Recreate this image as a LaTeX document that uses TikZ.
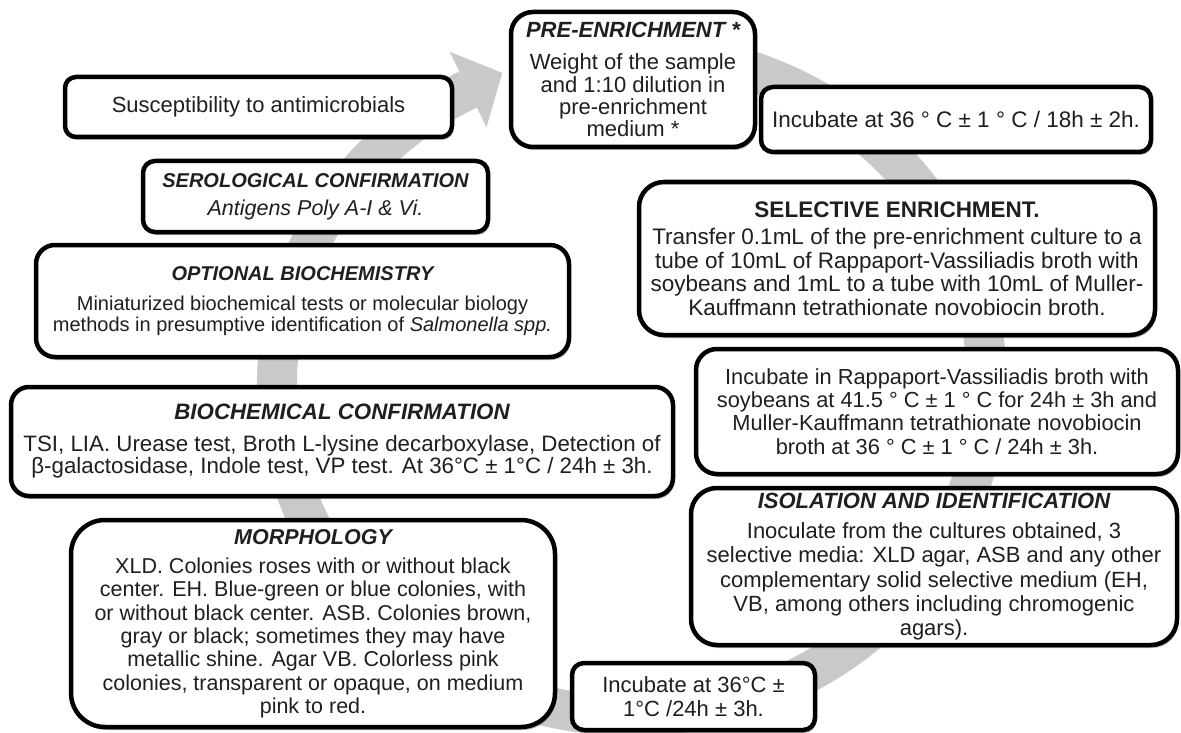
\documentclass[tikz,border=0pt]{standalone}
\usepackage{fontspec}
\setmainfont{Liberation Sans}
\usetikzlibrary{shadows}
\definecolor{band}{gray}{0.79}
\definecolor{txt}{gray}{0.12}
\lineskiplimit=-100pt
\newcommand{\ttl}[1]{{\bfseries\itshape #1}}
\tikzset{
  stepbox/.style={draw=black, line width=4.5pt, fill=white, inner sep=0pt,
    align=center, text=txt,
    drop shadow={shadow xshift=1.5pt, shadow yshift=-3pt, opacity=0.3, fill=black}},
  fs/.style 2 args={font=\fontsize{#1}{#2}\selectfont},
  bandline/.style={draw=band, line width=40pt},
}
\begin{document}
\begin{tikzpicture}[x=1pt, y=-1pt]
\useasboundingbox (0,0) rectangle (1181,733);
% big circular arrow in the background
\draw[bandline] (632,384) ++(-100:355 and 332) arc[start angle=-100, end angle=242.5, x radius=355, y radius=332];
\coordinate (ahA) at (449.7,51.7);
\coordinate (ahT) at (502.3,72.9);
\coordinate (ahB) at (486.5,127.3);
\fill[band] (ahA) -- (ahT) -- (ahB) -- cycle;

% boxes
\node[stepbox, fs={22}{23.5}, minimum width=387, minimum height=60, rounded corners=11pt] (sus) at (258.5,107) {Susceptibility to antimicrobials};

\node[stepbox, fs={22}{22.3}, minimum width=244, minimum height=135, rounded corners=22pt] (pre) at (633,79.5) {\ttl{PRE-ENRICHMENT *}\\[10pt]Weight of the sample\\and 1:10 dilution in\\pre-enrichment\\medium *};

\node[stepbox, fs={22.5}{23.5}, minimum width=390, minimum height=65, rounded corners=12pt] (inc1) at (956,119.5) {Incubate at 36 ° C ± 1 ° C / 18h ± 2h.};

\node[stepbox, fs={22.5}{23.5}, minimum width=516, minimum height=153, rounded corners=25pt] (sel) at (897,258.5) {{\bfseries SELECTIVE ENRICHMENT.}\\[4pt]Transfer 0.1mL of the pre-enrichment culture to a\\tube of 10mL of Rappaport-Vassiliadis broth with\\soybeans and 1mL to a tube with 10mL of Muller-\\Kauffmann tetrathionate novobiocin broth.};

\node[stepbox, fs={21.8}{23.3}, minimum width=482, minimum height=125, rounded corners=21pt] (rv) at (937,411.5) {Incubate in Rappaport-Vassiliadis broth with\\soybeans at 41.5 ° C ± 1 ° C for 24h ± 3h and\\Muller-Kauffmann tetrathionate novobiocin\\broth at 36 ° C ± 1 ° C / 24h ± 3h.};

\node[stepbox, fs={22}{24.2}, minimum width=486, minimum height=157, rounded corners=26pt] (iso) at (934,566.5) {\ttl{ISOLATION AND IDENTIFICATION}\\[6pt]Inoculate from the cultures obtained, 3\\selective media: XLD agar, ASB and any other\\complementary solid selective medium (EH,\\VB, among others including chromogenic\\agars).};

\node[stepbox, fs={22}{23.3}, minimum width=243, minimum height=67, rounded corners=12pt] (inc2) at (693.5,696.5) {Incubate at 36°C ±\\1°C /24h ± 3h.};

\node[stepbox, fs={21.5}{23.3}, minimum width=484, minimum height=207, rounded corners=34pt] (morph) at (313,623.5) {\ttl{MORPHOLOGY}\\[6pt]XLD. Colonies roses with or without black\\center. EH. Blue-green or blue colonies, with\\or without black center. ASB. Colonies brown,\\gray or black; sometimes they may have\\metallic shine. Agar VB. Colorless pink\\colonies, transparent or opaque, on medium\\pink to red.};

\node[stepbox, fs={22.3}{22.5}, minimum width=662, minimum height=109, rounded corners=18pt] (bio) at (342,441.5) {\ttl{BIOCHEMICAL CONFIRMATION}\\[9pt]TSI, LIA. Urease test, Broth L-lysine decarboxylase, Detection of\\β-galactosidase, Indole test, VP test. At 36°C ± 1°C / 24h ± 3h.};

\node[stepbox, fs={20}{21}, minimum width=533, minimum height=112, rounded corners=19pt] (opt) at (302.5,301) {\ttl{OPTIONAL BIOCHEMISTRY}\\[9pt]Miniaturized biochemical tests or molecular biology\\methods in presumptive identification of \textit{Salmonella spp.}};

\node[stepbox, fs={21.5}{23}, minimum width=345, minimum height=71, rounded corners=12pt] (sero) at (315.5,196.5) {{\fontsize{20}{23}\selectfont\ttl{SEROLOGICAL CONFIRMATION}}\\[5pt]\textit{Antigens Poly A-I \& Vi.}};
\end{tikzpicture}
\end{document}
